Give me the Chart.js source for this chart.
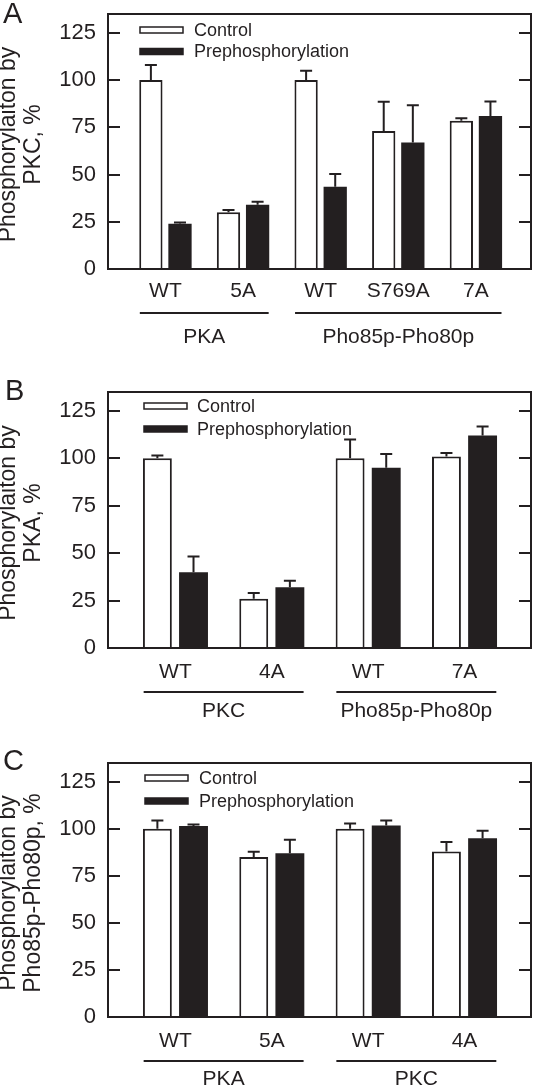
<!DOCTYPE html>
<html>
<head>
<meta charset="utf-8">
<script src="https://cdn.jsdelivr.net/npm/chart.js@4.4.0/dist/chart.umd.min.js"></script>
<style>
  body { margin: 0; background: #fff; width: 534px; height: 1088px; overflow: hidden; position: relative; }
  .panel { position: absolute; left: 0; width: 534px; }
</style>
</head>
<body>
<div class="panel" style="top:0;height:365px"><canvas id="chartA"></canvas></div>
<div class="panel" style="top:365px;height:380px"><canvas id="chartB"></canvas></div>
<div class="panel" style="top:745px;height:343px"><canvas id="chartC"></canvas></div>
<script>
const seriesNames = ['Control', 'Prephosphorylation'];
const yTicks = [0, 25, 50, 75, 100, 125];
const yMax = 135;

// panel A - phosphorylation by PKC
const catsA = ['WT', '5A', 'WT', 'S769A', '7A'];
const controlA = [100, 30, 100, 73, 78.5];
const controlErrA = [8, 1.2, 5, 15.5, 1.3];
const prephosA = [24, 34, 43.5, 67, 81];
const prephosErrA = [0.6, 1.6, 6.8, 19.7, 7.7];
const groupNamesA = ['PKA', 'Pho85p-Pho80p'];
const groupSpansA = [[0, 1], [2, 4]];

// panel B - phosphorylation by PKA
const catsB = ['WT', '4A', 'WT', '7A'];
const controlB = [100, 26, 100, 101];
const controlErrB = [1.5, 3, 10, 1.8];
const prephosB = [40, 32, 95, 112];
const prephosErrB = [8.2, 3.5, 7.3, 4.8];
const groupNamesB = ['PKC', 'Pho85p-Pho80p'];
const groupSpansB = [[0, 1], [2, 3]];

// panel C - phosphorylation by Pho85p-Pho80p
const catsC = ['WT', '5A', 'WT', '4A'];
const controlC = [100, 85, 100, 88];
const controlErrC = [4.4, 2.8, 2.8, 5];
const prephosC = [101.5, 87, 101.8, 95];
const prephosErrC = [0.8, 7.2, 2.6, 4];
const groupNamesC = ['PKA', 'PKC'];
const groupSpansC = [[0, 1], [2, 3]];

const ink = '#231f20';
const fontFam = '"Liberation Sans", Arial, Helvetica, sans-serif';

function buildPanel(id, p) {
  const decor = {
    id: 'decor',
    afterDatasetsDraw(chart) {
      const c = chart.ctx, a = chart.chartArea;
      const xs = chart.scales.x, ys = chart.scales.y;
      c.save();
      c.strokeStyle = ink;
      c.fillStyle = ink;
      c.lineWidth = 2;

      // error bars (upper only)
      chart.data.datasets.forEach((ds, di) => {
        chart.getDatasetMeta(di).data.forEach((bar, i) => {
          const yTop = ys.getPixelForValue(ds.data[i].y + ds.err[i]);
          c.beginPath();
          c.moveTo(bar.x, bar.y);
          c.lineTo(bar.x, yTop);
          c.moveTo(bar.x - 6, yTop);
          c.lineTo(bar.x + 6, yTop);
          c.stroke();
        });
      });

      // frame with inward ticks
      c.strokeRect(a.left, a.top, a.right - a.left, a.bottom - a.top);
      ys.ticks.forEach(t => {
        const y = Math.round(ys.getPixelForValue(t.value));
        c.beginPath();
        c.moveTo(a.left, y); c.lineTo(a.left + 12, y);
        c.moveTo(a.right, y); c.lineTo(a.right - 12, y);
        c.stroke();
      });

      // legend inside the plot
      c.font = '18px ' + fontFam;
      c.textBaseline = 'middle';
      c.textAlign = 'left';
      chart.data.datasets.forEach((ds, i) => {
        const bx = a.left + p.legend.dx, cy = a.top + p.legend.dy + i * p.legend.gap;
        c.fillStyle = ds.backgroundColor;
        c.fillRect(bx, cy - 3, 43, 6);
        c.lineWidth = 1.5;
        c.strokeRect(bx, cy - 3, 43, 6);
        c.fillStyle = ink;
        c.fillText(ds.label, bx + p.legend.textDx, cy + 1);
      });

      // group lines and names under the categories
      c.lineWidth = 2;
      c.font = '21px ' + fontFam;
      c.textAlign = 'center';
      p.groupNames.forEach((name, g) => {
        const x0 = xs.getPixelForValue(p.groupSpans[g][0] - 0.33);
        const x1 = xs.getPixelForValue(p.groupSpans[g][1] + 0.33);
        const yl = a.bottom + 44;
        c.beginPath();
        c.moveTo(x0, yl); c.lineTo(x1, yl);
        c.stroke();
        c.fillText(name, (x0 + x1) / 2, a.bottom + p.groupDy);
      });

      // y axis title, two lines
      c.save();
      c.translate(9, (a.top + a.bottom) / 2 + 3);
      c.rotate(-Math.PI / 2);
      c.font = '23px ' + fontFam;
      c.textAlign = 'center';
      c.textBaseline = 'middle';
      p.title.forEach((line, k) => c.fillText(line, 0, k * 24.5));
      c.restore();

      // panel letter
      c.font = '29px ' + fontFam;
      c.textAlign = 'left';
      c.textBaseline = 'alphabetic';
      c.fillText(p.letter, p.letterX, p.letterY);
      c.restore();
    }
  };

  return new Chart(document.getElementById(id).getContext('2d'), {
    type: 'bar',
    data: {
      datasets: [
        {
          label: seriesNames[0],
          data: p.control.map((v, i) => ({ x: i, y: v })),
          err: p.controlErr,
          backgroundColor: '#ffffff',
          borderColor: ink,
          borderWidth: 2
        },
        {
          label: seriesNames[1],
          data: p.prephos.map((v, i) => ({ x: i, y: v })),
          err: p.prephosErr,
          backgroundColor: ink,
          borderColor: ink,
          borderWidth: 0
        }
      ]
    },
    options: {
      responsive: true,
      maintainAspectRatio: false,
      devicePixelRatio: 1,
      animation: false,
      categoryPercentage: 0.75,
      barPercentage: 0.8,
      layout: { padding: { left: 0, right: 3, top: p.top, bottom: 0 } },
      plugins: { legend: { display: false }, tooltip: { enabled: false } },
      scales: {
        x: {
          type: 'linear',
          offset: false,
          min: p.xMin,
          max: p.xMax,
          grid: { display: false, drawTicks: false, offset: false },
          border: { display: false },
          afterBuildTicks: ax => { ax.ticks = p.cats.map((_, i) => ({ value: i })); },
          afterFit: s => {
            s.height = p.xHeight;
            s.paddingLeft = 0;
            s.paddingRight = 0;
          },
          ticks: {
            callback: v => p.cats[v],
            color: ink,
            font: { family: fontFam, size: 21 },
            padding: p.labelPad,
            maxRotation: 0,
            autoSkip: false
          }
        },
        y: {
          min: 0,
          max: yMax,
          grid: { display: false, drawTicks: false },
          border: { display: false },
          afterBuildTicks: ax => { ax.ticks = yTicks.map(v => ({ value: v })); },
          afterFit: s => {
            s.width = 108;
            s.paddingTop = 0;
            s.paddingBottom = 0;
          },
          ticks: {
            color: ink,
            font: { family: fontFam, size: 22 },
            padding: 12
          }
        }
      }
    },
    plugins: [decor]
  });
}

buildPanel('chartA', {
  cats: catsA, control: controlA, controlErr: controlErrA, prephos: prephosA, prephosErr: prephosErrA,
  groupNames: groupNamesA, groupSpans: groupSpansA,
  title: ['Phosphorylaiton by', 'PKC, %'], letter: 'A', letterX: 3, letterY: 23,
  top: 14, xHeight: 96, xMin: -0.74, xMax: 4.71, labelPad: 10, groupDy: 68,
  legend: { dx: 32, dy: 16, gap: 21.5, textDx: 54 }
});

buildPanel('chartB', {
  cats: catsB, control: controlB, controlErr: controlErrB, prephos: prephosB, prephosErr: prephosErrB,
  groupNames: groupNamesB, groupSpans: groupSpansB,
  title: ['Phosphorylaiton by', 'PKA, %'], letter: 'B', letterX: 5, letterY: 35,
  top: 27, xHeight: 97, xMin: -0.7, xMax: 3.69, labelPad: 11.5, groupDy: 63,
  legend: { dx: 36, dy: 14, gap: 23, textDx: 53 }
});

buildPanel('chartC', {
  cats: catsC, control: controlC, controlErr: controlErrC, prephos: prephosC, prephosErr: prephosErrC,
  groupNames: groupNamesC, groupSpans: groupSpansC,
  title: ['Phosphorylaiton by', 'Pho85p-Pho80p, %'], letter: 'C', letterX: 3, letterY: 25,
  top: 18, xHeight: 71, xMin: -0.7, xMax: 3.69, labelPad: 11.5, groupDy: 62,
  legend: { dx: 37, dy: 15, gap: 23, textDx: 54 }
});
</script>
</body>
</html>
